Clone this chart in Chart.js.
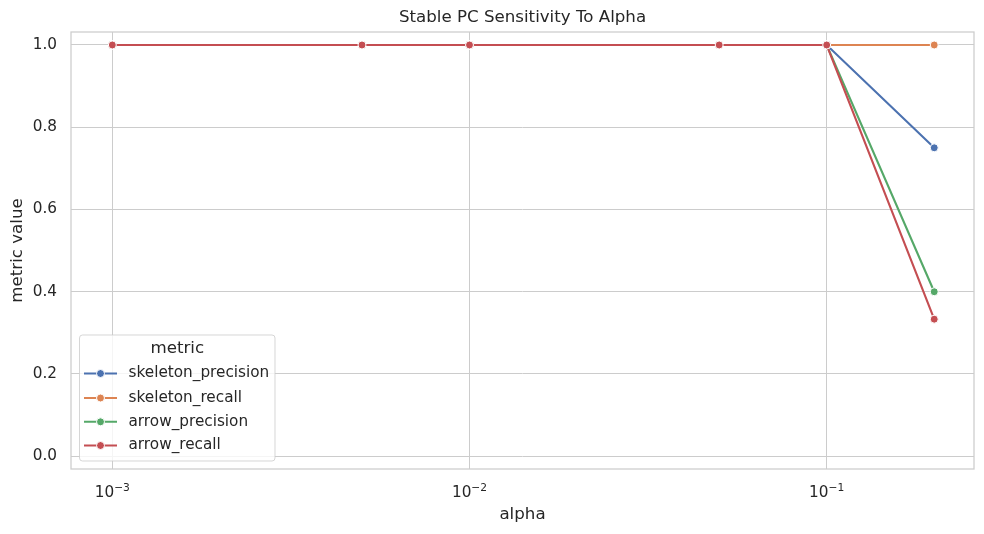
<!DOCTYPE html>
<html><head><meta charset="utf-8">
<script src="https://cdn.jsdelivr.net/npm/chart.js@4.4.1/dist/chart.umd.min.js"></script>
<style>html,body{margin:0;padding:0;background:#fff;overflow:hidden;}</style>
</head><body>
<canvas id="c" width="984" height="534" style="width:984px;height:534px;display:block"></canvas>
<script>
const alphas = [0.001, 0.005, 0.01, 0.05, 0.1, 0.2];
const skeletonPrecision = [1, 1, 1, 1, 1, 0.75];
const skeletonRecall = [1, 1, 1, 1, 1, 1];
const arrowPrecision = [1, 1, 1, 1, 1, 0.4];
const arrowRecall = [1, 1, 1, 1, 1, 0.3333];
const seriesNames = ['skeleton_precision', 'skeleton_recall', 'arrow_precision', 'arrow_recall'];
const seriesColors = ['#4c72b0', '#dd8452', '#55a868', '#c44e52'];
const xTickValues = [0.001, 0.01, 0.1];
const xTickBase = ['10', '10', '10'];
const xTickExp = ['\u22123', '\u22122', '\u22121'];
const yTickValues = [0, 0.2, 0.4, 0.6, 0.8, 1.0];
const yTickLabels = ['0.0', '0.2', '0.4', '0.6', '0.8', '1.0'];
const titleText = 'Stable PC Sensitivity To Alpha';
const xTitle = 'alpha';
const yTitle = 'metric value';
const legendTitle = 'metric';

const FONT = '"DejaVu Sans", sans-serif';
const TXT = '#262626';
const GRID = '#cccccc';
const TICK_SIZE = 15.28;
const LABEL_SIZE = 16.67;

const allSeries = [skeletonPrecision, skeletonRecall, arrowPrecision, arrowRecall];
const datasets = allSeries.map((vals, i) => ({
  label: seriesNames[i],
  data: alphas.map((a, j) => ({x: a, y: vals[j]})),
  borderColor: seriesColors[i],
  backgroundColor: seriesColors[i],
  pointBackgroundColor: seriesColors[i],
  pointBorderColor: '#ffffff',
  pointBorderWidth: 1,
  pointRadius: 4,
  borderWidth: 2.1,
  tension: 0,
  order: allSeries.length - 1 - i
}));

const framePlugin = {
  id: 'frameLegend',
  afterDraw(chart) {
    const ctx = chart.ctx;
    const a = chart.chartArea;
    ctx.save();
    ctx.strokeStyle = GRID;
    ctx.lineWidth = 1.25;
    ctx.strokeRect(a.left, a.top, a.right - a.left, a.bottom - a.top);
    // title centred over the plot area
    ctx.fillStyle = TXT;
    ctx.textAlign = 'center';
    ctx.textBaseline = 'middle';
    ctx.font = LABEL_SIZE + 'px ' + FONT;
    ctx.fillText(titleText, (a.left + a.right) / 2, 18);
    // x tick labels with superscript exponents
    const xs = chart.scales.x;
    ctx.textBaseline = 'alphabetic';
    ctx.textAlign = 'left';
    xTickValues.forEach((v, i) => {
      const px = xs.getPixelForValue(v);
      ctx.font = TICK_SIZE + 'px ' + FONT;
      const wb = ctx.measureText(xTickBase[i]).width;
      ctx.font = (TICK_SIZE * 0.7) + 'px ' + FONT;
      const we = ctx.measureText(xTickExp[i]).width;
      const x0 = px - (wb + we) / 2;
      ctx.font = TICK_SIZE + 'px ' + FONT;
      ctx.fillText(xTickBase[i], x0, 497);
      ctx.font = (TICK_SIZE * 0.7) + 'px ' + FONT;
      ctx.fillText(xTickExp[i], x0 + wb, 491);
    });
    // legend
    const bx = 79.5, by = 335, bw = 195.5, bh = 126;
    ctx.beginPath();
    if (ctx.roundRect) ctx.roundRect(bx, by, bw, bh, 3); else ctx.rect(bx, by, bw, bh);
    ctx.fillStyle = 'rgba(255,255,255,0.8)';
    ctx.fill();
    ctx.strokeStyle = 'rgba(204,204,204,0.8)';
    ctx.lineWidth = 1;
    ctx.stroke();
    ctx.fillStyle = TXT;
    ctx.textAlign = 'center';
    ctx.textBaseline = 'middle';
    ctx.font = LABEL_SIZE + 'px ' + FONT;
    ctx.fillText(legendTitle, bx + bw / 2, 349);
    const rows = [373.5, 398, 421.8, 445.5];
    chart.data.datasets.forEach((ds, i) => {
      const y = rows[i];
      ctx.strokeStyle = ds.borderColor;
      ctx.lineWidth = 2.1;
      ctx.beginPath();
      ctx.moveTo(84, y); ctx.lineTo(117, y); ctx.stroke();
      ctx.beginPath();
      ctx.arc(100.5, y, 4, 0, Math.PI * 2);
      ctx.fillStyle = ds.borderColor; ctx.fill();
      ctx.strokeStyle = '#ffffff'; ctx.lineWidth = 1; ctx.stroke();
      ctx.fillStyle = TXT;
      ctx.textAlign = 'left';
      ctx.font = TICK_SIZE + 'px ' + FONT;
      ctx.fillText(ds.label, 128.5, y);
    });
    ctx.restore();
  }
};

new Chart(document.getElementById('c'), {
  type: 'line',
  data: {datasets},
  options: {
    responsive: false,
    animation: false,
    devicePixelRatio: 1,
    layout: {padding: {left: 0, right: 10, top: 32, bottom: 0}},
    plugins: {
      legend: {display: false},
      tooltip: {enabled: false},
      title: {display: false}
    },
    scales: {
      x: {
        type: 'logarithmic',
        min: Math.pow(10, -3.1157),
        max: Math.pow(10, -0.5876),
        afterBuildTicks(s) { s.ticks = xTickValues.map(v => ({value: v})); },
        afterFit(s) { s.height = 65; },
        ticks: {display: false, autoSkip: false},
        grid: {color: GRID, lineWidth: 1, drawTicks: false},
        border: {display: false},
        title: {display: true, text: xTitle, color: TXT, font: {family: FONT, size: LABEL_SIZE}, padding: {top: 0, bottom: 9}}
      },
      y: {
        type: 'linear',
        min: -0.031,
        max: 1.0316,
        afterBuildTicks(s) { s.ticks = yTickValues.map(v => ({value: v})); },
        afterFit(s) { s.width = 71; },
        ticks: {
          color: TXT, font: {family: FONT, size: TICK_SIZE}, padding: 14,
          callback(v) { const k = yTickValues.findIndex(t => Math.abs(t - v) < 1e-9); return k >= 0 ? yTickLabels[k] : ''; }
        },
        grid: {color: GRID, lineWidth: 1, drawTicks: false},
        border: {display: false},
        title: {display: true, text: yTitle, color: TXT, font: {family: FONT, size: LABEL_SIZE}, padding: {top: 8, bottom: 0}}
      }
    }
  },
  plugins: [framePlugin]
});
</script>
</body></html>
